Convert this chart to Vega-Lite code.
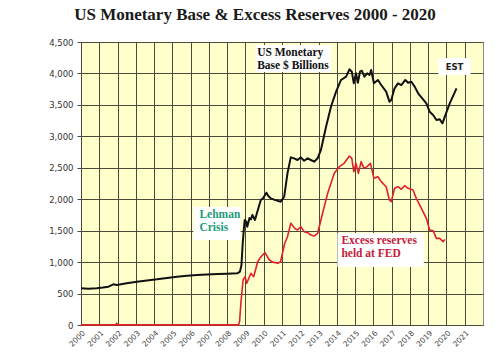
{
  "$schema": "https://vega.github.io/schema/vega-lite/v6.json",
  "autosize": {"type": "none"},
  "padding": {"left": 81, "top": 42, "right": 17, "bottom": 34},
  "width": 402,
  "height": 283,
  "background": "#ffffff",
  "title": {
    "text": "US Monetary Base & Excess Reserves 2000 - 2020",
    "font": "Liberation Serif",
    "fontSize": 17,
    "fontWeight": "bold",
    "color": "#1a1a1a",
    "anchor": "middle",
    "baseline": "alphabetic",
    "offset": 1,
    "dx": -27
  },
  "config": {
    "view": {"fill": "#FFFFCC", "stroke": "#8a8a80", "strokeWidth": 1},
    "axis": {
      "labelFont": "DejaVu Sans",
      "labelColor": "#333333",
      "gridColor": "#4a4a3a",
      "gridOpacity": 1,
      "gridWidth": 1,
      "domain": false,
      "tickColor": "#4a4a3a",
      "title": null
    }
  },
  "datasets": {
    "series": [
      {"t": 2000.00, "s": "base", "v": 583},
      {"t": 2000.40, "s": "base", "v": 578},
      {"t": 2000.86, "s": "base", "v": 583},
      {"t": 2001.20, "s": "base", "v": 595},
      {"t": 2001.50, "s": "base", "v": 609},
      {"t": 2001.77, "s": "base", "v": 647},
      {"t": 2001.96, "s": "base", "v": 636},
      {"t": 2002.50, "s": "base", "v": 665},
      {"t": 2003.06, "s": "base", "v": 689},
      {"t": 2003.60, "s": "base", "v": 708},
      {"t": 2004.16, "s": "base", "v": 726},
      {"t": 2004.70, "s": "base", "v": 748},
      {"t": 2005.26, "s": "base", "v": 768},
      {"t": 2005.80, "s": "base", "v": 782},
      {"t": 2006.36, "s": "base", "v": 795},
      {"t": 2006.90, "s": "base", "v": 803},
      {"t": 2007.46, "s": "base", "v": 811},
      {"t": 2008.00, "s": "base", "v": 816},
      {"t": 2008.55, "s": "base", "v": 822},
      {"t": 2008.70, "s": "base", "v": 850},
      {"t": 2008.78, "s": "base", "v": 950},
      {"t": 2008.85, "s": "base", "v": 1300},
      {"t": 2008.92, "s": "base", "v": 1550},
      {"t": 2008.96, "s": "base", "v": 1670},
      {"t": 2009.05, "s": "base", "v": 1640},
      {"t": 2009.10, "s": "base", "v": 1563},
      {"t": 2009.22, "s": "base", "v": 1700},
      {"t": 2009.30, "s": "base", "v": 1680},
      {"t": 2009.38, "s": "base", "v": 1749},
      {"t": 2009.52, "s": "base", "v": 1670},
      {"t": 2009.65, "s": "base", "v": 1800},
      {"t": 2009.84, "s": "base", "v": 1988},
      {"t": 2009.96, "s": "base", "v": 2014},
      {"t": 2010.15, "s": "base", "v": 2104},
      {"t": 2010.25, "s": "base", "v": 2050},
      {"t": 2010.38, "s": "base", "v": 2014},
      {"t": 2010.60, "s": "base", "v": 1990},
      {"t": 2010.93, "s": "base", "v": 1961},
      {"t": 2011.12, "s": "base", "v": 2040},
      {"t": 2011.30, "s": "base", "v": 2412},
      {"t": 2011.48, "s": "base", "v": 2666},
      {"t": 2011.66, "s": "base", "v": 2650},
      {"t": 2011.85, "s": "base", "v": 2624},
      {"t": 2012.03, "s": "base", "v": 2666},
      {"t": 2012.21, "s": "base", "v": 2612},
      {"t": 2012.40, "s": "base", "v": 2650},
      {"t": 2012.58, "s": "base", "v": 2624},
      {"t": 2012.76, "s": "base", "v": 2597},
      {"t": 2012.95, "s": "base", "v": 2650},
      {"t": 2013.13, "s": "base", "v": 2783},
      {"t": 2013.41, "s": "base", "v": 3153},
      {"t": 2013.68, "s": "base", "v": 3471},
      {"t": 2013.96, "s": "base", "v": 3710},
      {"t": 2014.23, "s": "base", "v": 3896},
      {"t": 2014.51, "s": "base", "v": 3948},
      {"t": 2014.69, "s": "base", "v": 4066},
      {"t": 2014.82, "s": "base", "v": 4028},
      {"t": 2014.93, "s": "base", "v": 3843},
      {"t": 2015.05, "s": "base", "v": 4002},
      {"t": 2015.15, "s": "base", "v": 3853},
      {"t": 2015.27, "s": "base", "v": 4028},
      {"t": 2015.37, "s": "base", "v": 4044},
      {"t": 2015.51, "s": "base", "v": 3948},
      {"t": 2015.66, "s": "base", "v": 4002},
      {"t": 2015.79, "s": "base", "v": 3975},
      {"t": 2015.88, "s": "base", "v": 4055},
      {"t": 2016.03, "s": "base", "v": 3843},
      {"t": 2016.25, "s": "base", "v": 3896},
      {"t": 2016.43, "s": "base", "v": 3816},
      {"t": 2016.70, "s": "base", "v": 3710},
      {"t": 2016.88, "s": "base", "v": 3551},
      {"t": 2016.98, "s": "base", "v": 3578},
      {"t": 2017.16, "s": "base", "v": 3763},
      {"t": 2017.35, "s": "base", "v": 3843},
      {"t": 2017.53, "s": "base", "v": 3816},
      {"t": 2017.75, "s": "base", "v": 3896},
      {"t": 2017.90, "s": "base", "v": 3853},
      {"t": 2018.08, "s": "base", "v": 3869},
      {"t": 2018.26, "s": "base", "v": 3790},
      {"t": 2018.45, "s": "base", "v": 3684},
      {"t": 2018.72, "s": "base", "v": 3588},
      {"t": 2018.90, "s": "base", "v": 3525},
      {"t": 2019.08, "s": "base", "v": 3392},
      {"t": 2019.27, "s": "base", "v": 3339},
      {"t": 2019.45, "s": "base", "v": 3260},
      {"t": 2019.63, "s": "base", "v": 3271},
      {"t": 2019.78, "s": "base", "v": 3207},
      {"t": 2019.91, "s": "base", "v": 3312},
      {"t": 2020.18, "s": "base", "v": 3525},
      {"t": 2020.55, "s": "base", "v": 3763},
      {"t": 2000.00, "s": "excess", "v": 2},
      {"t": 2001.90, "s": "excess", "v": 2},
      {"t": 2001.95, "s": "excess", "v": 30},
      {"t": 2002.00, "s": "excess", "v": 2},
      {"t": 2008.62, "s": "excess", "v": 2},
      {"t": 2008.68, "s": "excess", "v": 60},
      {"t": 2008.75, "s": "excess", "v": 350},
      {"t": 2008.87, "s": "excess", "v": 716},
      {"t": 2008.98, "s": "excess", "v": 768},
      {"t": 2009.07, "s": "excess", "v": 663},
      {"t": 2009.30, "s": "excess", "v": 822},
      {"t": 2009.45, "s": "excess", "v": 768},
      {"t": 2009.67, "s": "excess", "v": 1006},
      {"t": 2009.85, "s": "excess", "v": 1086},
      {"t": 2010.07, "s": "excess", "v": 1150},
      {"t": 2010.31, "s": "excess", "v": 1034},
      {"t": 2010.50, "s": "excess", "v": 1000},
      {"t": 2010.77, "s": "excess", "v": 981},
      {"t": 2010.92, "s": "excess", "v": 1006},
      {"t": 2011.15, "s": "excess", "v": 1300},
      {"t": 2011.30, "s": "excess", "v": 1404},
      {"t": 2011.48, "s": "excess", "v": 1617},
      {"t": 2011.70, "s": "excess", "v": 1537},
      {"t": 2011.85, "s": "excess", "v": 1511},
      {"t": 2012.03, "s": "excess", "v": 1563},
      {"t": 2012.21, "s": "excess", "v": 1484},
      {"t": 2012.40, "s": "excess", "v": 1468},
      {"t": 2012.58, "s": "excess", "v": 1431},
      {"t": 2012.76, "s": "excess", "v": 1415},
      {"t": 2012.95, "s": "excess", "v": 1458},
      {"t": 2013.13, "s": "excess", "v": 1670},
      {"t": 2013.22, "s": "excess", "v": 1776},
      {"t": 2013.50, "s": "excess", "v": 2094},
      {"t": 2013.86, "s": "excess", "v": 2412},
      {"t": 2014.14, "s": "excess", "v": 2518},
      {"t": 2014.40, "s": "excess", "v": 2571},
      {"t": 2014.69, "s": "excess", "v": 2687},
      {"t": 2014.82, "s": "excess", "v": 2650},
      {"t": 2014.93, "s": "excess", "v": 2438},
      {"t": 2015.05, "s": "excess", "v": 2571},
      {"t": 2015.18, "s": "excess", "v": 2412},
      {"t": 2015.33, "s": "excess", "v": 2597},
      {"t": 2015.48, "s": "excess", "v": 2491},
      {"t": 2015.66, "s": "excess", "v": 2518},
      {"t": 2015.84, "s": "excess", "v": 2571},
      {"t": 2016.03, "s": "excess", "v": 2332},
      {"t": 2016.25, "s": "excess", "v": 2358},
      {"t": 2016.43, "s": "excess", "v": 2279},
      {"t": 2016.70, "s": "excess", "v": 2199},
      {"t": 2016.88, "s": "excess", "v": 1988},
      {"t": 2016.98, "s": "excess", "v": 1961},
      {"t": 2017.16, "s": "excess", "v": 2174},
      {"t": 2017.35, "s": "excess", "v": 2199},
      {"t": 2017.53, "s": "excess", "v": 2158},
      {"t": 2017.71, "s": "excess", "v": 2215},
      {"t": 2017.90, "s": "excess", "v": 2174},
      {"t": 2018.17, "s": "excess", "v": 2147},
      {"t": 2018.35, "s": "excess", "v": 2014},
      {"t": 2018.63, "s": "excess", "v": 1855},
      {"t": 2018.90, "s": "excess", "v": 1697},
      {"t": 2019.08, "s": "excess", "v": 1511},
      {"t": 2019.27, "s": "excess", "v": 1500},
      {"t": 2019.45, "s": "excess", "v": 1378},
      {"t": 2019.63, "s": "excess", "v": 1378},
      {"t": 2019.82, "s": "excess", "v": 1325},
      {"t": 2019.91, "s": "excess", "v": 1362}
    ],
    "boxes": [
      {"t": 2009.56, "t2": 2013.68, "v": 4023, "v2": 4452},
      {"t": 2019.56, "t2": 2021.32, "v": 3975, "v2": 4245},
      {"t": 2006.15, "t2": 2008.74, "v": 1351, "v2": 1876},
      {"t": 2014.03, "t2": 2018.76, "v": 922, "v2": 1463}
    ],
    "labels": [
      {"t": 2009.64, "v": 4325, "text": "US Monetary", "kind": "base"},
      {"t": 2009.64, "v": 4118, "text": "Base $ Billions", "kind": "base"},
      {"t": 2006.48, "v": 1749, "text": "Lehman", "kind": "lehman"},
      {"t": 2006.48, "v": 1542, "text": "Crisis", "kind": "lehman"},
      {"t": 2014.25, "v": 1336, "text": "Excess reserves", "kind": "excess"},
      {"t": 2014.25, "v": 1129, "text": "held at FED", "kind": "excess"}
    ],
    "est": [
      {"t": 2020.44, "v": 4102, "text": "EST"}
    ]
  },
  "encoding": {
    "x": {
      "field": "t", "type": "quantitative",
      "scale": {"domain": [2000, 2022], "nice": false, "zero": false},
      "axis": {
        "values": [2000, 2001, 2002, 2003, 2004, 2005, 2006, 2007, 2008, 2009, 2010, 2011, 2012, 2013, 2014, 2015, 2016, 2017, 2018, 2019, 2020, 2021],
        "format": "d",
        "labelAngle": -45,
        "labelFontSize": 7.5,
        "labelColor": "#444444",
        "labelOverlap": false,
        "ticks": false,
        "labelPadding": 4
      }
    },
    "y": {
      "field": "v", "type": "quantitative",
      "scale": {"domain": [0, 4500], "nice": false},
      "axis": {
        "values": [0, 500, 1000, 1500, 2000, 2500, 3000, 3500, 4000, 4500],
        "format": ",.0f",
        "labelFontSize": 8.5,
        "tickSize": 4,
        "labelPadding": 4
      }
    }
  },
  "layer": [
    {
      "data": {"name": "series"},
      "transform": [{"filter": "datum.s === 'base'"}],
      "mark": {"type": "line", "color": "#111111", "strokeWidth": 2, "strokeJoin": "round"}
    },
    {
      "data": {"name": "series"},
      "transform": [{"filter": "datum.s === 'excess'"}],
      "mark": {"type": "line", "color": "#e0222a", "strokeWidth": 1.6, "strokeJoin": "round"}
    },
    {
      "data": {"name": "boxes"},
      "mark": {"type": "rect", "fill": "#ffffff"},
      "encoding": {
        "x2": {"field": "t2"},
        "y2": {"field": "v2"}
      }
    },
    {
      "data": {"name": "labels"},
      "mark": {"type": "text", "font": "Liberation Serif", "fontWeight": "bold", "fontSize": 11.5, "align": "left", "baseline": "middle"},
      "encoding": {
        "text": {"field": "text"},
        "color": {
          "field": "kind", "type": "nominal",
          "scale": {"domain": ["base", "lehman", "excess"], "range": ["#111111", "#1f9a7c", "#c4203c"]},
          "legend": null
        }
      }
    },
    {
      "data": {"name": "est"},
      "mark": {"type": "text", "font": "DejaVu Sans", "fontWeight": "bold", "fontSize": 8.5, "align": "center", "baseline": "middle", "color": "#222222"},
      "encoding": {
        "text": {"field": "text"}
      }
    }
  ]
}
